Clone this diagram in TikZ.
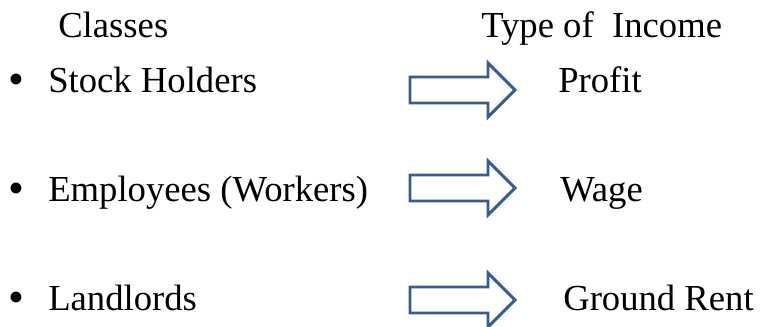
\documentclass[tikz,border=0pt]{standalone}
\usepackage{fontspec}
\setmainfont{Liberation Serif}
\usetikzlibrary{positioning}

\definecolor{arrowblue}{RGB}{56,93,138}

\tikzset{
  lbl/.style={font=\fontsize{27.5}{33}\selectfont, anchor=base west, inner sep=0pt},
  bul/.style={font=\fontsize{34}{40}\selectfont, anchor=base west, inner sep=0pt},
  incarrow/.style={draw=arrowblue, line width=2.2pt, line join=miter, fill=white}
}

\begin{document}
\begin{tikzpicture}[x=0.75pt,y=-0.75pt]
\useasboundingbox (0,0) rectangle (762,327);

% headings
\node[lbl] (classes) at (58,38) {Classes};
\node[lbl] (income) at (481,38) {Type of\ \ Income};

% classes
\node[bul] (b1) at (8,95) {\textbullet};
\node[lbl] (stock) at (48,93) {Stock Holders};
\node[bul] (b2) at (8,204) {\textbullet};
\node[lbl] (employees) at (48,202) {Employees (Workers)};
\node[bul] (b3) at (8,312) {\textbullet};
\node[lbl] (landlords) at (48,310) {Landlords};

% incomes
\node[lbl] (profit) at (558,93) {Profit};
\node[lbl] (wage) at (560,202) {Wage};
\node[lbl] (rent) at (563,310) {Ground Rent};

% arrows
\draw[incarrow] (410,77) -- (488,77) -- (488,63) -- (515,90) -- (488,117) -- (488,103) -- (410,103) -- cycle;
\draw[incarrow] (410,175) -- (488,175) -- (488,161) -- (515,188) -- (488,215) -- (488,201) -- (410,201) -- cycle;
\draw[incarrow] (410,287) -- (488,287) -- (488,273) -- (515,300) -- (488,327) -- (488,313) -- (410,313) -- cycle;

\end{tikzpicture}
\end{document}
